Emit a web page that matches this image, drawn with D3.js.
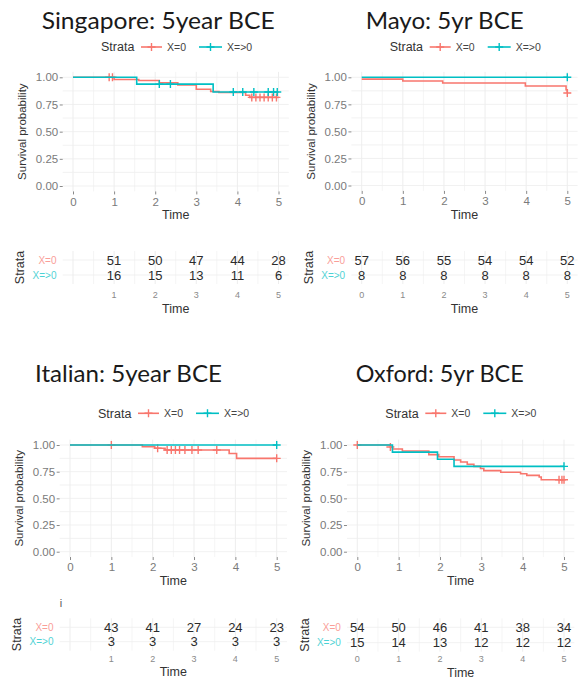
<!DOCTYPE html>
<html>
<head>
<meta charset="utf-8">
<script src="https://cdn.jsdelivr.net/npm/d3@7/dist/d3.min.js"></script>
<style>
body { margin: 0; background: #fff; }
</style>
</head>
<body>
<div id="km_grid"></div>
<script>
// Panel titles and strata
var titles = ['Singapore: 5year BCE', 'Mayo: 5yr BCE', 'Italian: 5year BCE', 'Oxford: 5yr BCE'];
var strata_labels = ['X=0', 'X=>0'];
var surv_ticks = [0, 0.25, 0.5, 0.75, 1];
var time_ticks = [0, 1, 2, 3, 4, 5];

// Kaplan-Meier steps (time, survival) and censoring times
var sgp_x0_time = [0, 1.0, 1.6, 2.1, 2.55, 3.0, 3.35, 3.55, 4.2, 4.3, 5];
var sgp_x0_surv = [1, 0.98, 0.97, 0.95, 0.93, 0.89, 0.87, 0.86, 0.835, 0.815, 0.815];
var sgp_x0_cens = [0.88, 0.96, 4.35, 4.45, 4.55, 4.65, 4.75, 4.85, 4.95];
var sgp_x1_time = [0, 1.55, 3.41, 5];
var sgp_x1_surv = [1, 0.9375, 0.865, 0.865];
var sgp_x1_cens = [2.1, 2.37, 3.9, 4.13, 4.4, 4.75, 4.88, 4.97];

var mayo_x0_time = [0, 1.0, 1.97, 3.98, 4.97, 5];
var mayo_x0_surv = [0.983, 0.966, 0.948, 0.92, 0.885, 0.855];
var mayo_x0_cens = [5];
var mayo_x1_time = [0, 5];
var mayo_x1_surv = [1, 1];
var mayo_x1_cens = [5];

var ital_x0_time = [0, 1.75, 2.05, 2.3, 3.85, 4.03, 5];
var ital_x0_surv = [1, 0.985, 0.97, 0.953, 0.92, 0.875, 0.875];
var ital_x0_cens = [1.0, 2.12, 2.35, 2.45, 2.55, 2.65, 2.78, 2.95, 3.1, 3.55, 5];
var ital_x1_time = [0, 5];
var ital_x1_surv = [1, 1];
var ital_x1_cens = [5];

var oxf_x0_time = [0, 0.8, 0.85, 1.09, 1.73, 1.97, 2.34, 2.5, 2.66, 2.82, 2.98, 3.06, 3.47, 3.95, 4.1, 4.4, 4.45, 5];
var oxf_x0_surv = [1, 0.981, 0.963, 0.944, 0.91, 0.89, 0.86, 0.84, 0.82, 0.80, 0.78, 0.76, 0.745, 0.73, 0.715, 0.70, 0.675, 0.675];
var oxf_x0_cens = [0, 0.8, 4.88, 4.95, 5.0];
var oxf_x1_time = [0, 0.85, 1.94, 2.34, 5];
var oxf_x1_surv = [1, 0.933, 0.867, 0.80, 0.80];
var oxf_x1_cens = [5];

// Numbers at risk
var sgp_risk_time = [1, 2, 3, 4, 5];
var sgp_risk_x0 = [51, 50, 47, 44, 28];
var sgp_risk_x1 = [16, 15, 13, 11, 6];
var mayo_risk_time = [0, 1, 2, 3, 4, 5];
var mayo_risk_x0 = [57, 56, 55, 54, 54, 52];
var mayo_risk_x1 = [8, 8, 8, 8, 8, 8];
var ital_risk_time = [1, 2, 3, 4, 5];
var ital_risk_x0 = [43, 41, 27, 24, 23];
var ital_risk_x1 = [3, 3, 3, 3, 3];
var oxf_risk_time = [0, 1, 2, 3, 4, 5];
var oxf_risk_x0 = [54, 50, 46, 41, 38, 34];
var oxf_risk_x1 = [15, 14, 13, 12, 12, 12];

var strata_colors = ['#F8766D', '#00BFC4'];
var sansFont = "'Liberation Sans', Arial, sans-serif";

// where each panel sits on the page (pixels)
var layout = [
	{x0: 73,    x5: 278.5, yTop: 77.3, yBot: 186,   titleX: 41.7,  titleY: 28.5, titleW: 233, legY: 47,    rows: [260, 275],     tabTick: 298, tabTime: 312.5},
	{x0: 361.7, x5: 567.3, yTop: 77.3, yBot: 185.5, titleX: 365.7, titleY: 28.5, titleW: 158, legY: 47,    rows: [260, 275],     tabTick: 298, tabTime: 312.5},
	{x0: 70,    x5: 276.7, yTop: 445,  yBot: 551.7, titleX: 35,    titleY: 382,  titleW: 187, legY: 413.3, rows: [627.3, 641.7], tabTick: 662, tabTime: 675.5},
	{x0: 357.3, x5: 564,   yTop: 445,  yBot: 551.7, titleX: 355.7, titleY: 382,  titleW: 168, legY: 413.3, rows: [627.3, 642.7], tabTick: 662, tabTime: 676.5}
];

var panels = [
	{curves: [[sgp_x0_time, sgp_x0_surv, sgp_x0_cens], [sgp_x1_time, sgp_x1_surv, sgp_x1_cens]],
	 risk: [sgp_risk_time, sgp_risk_x0, sgp_risk_x1]},
	{curves: [[mayo_x0_time, mayo_x0_surv, mayo_x0_cens], [mayo_x1_time, mayo_x1_surv, mayo_x1_cens]],
	 risk: [mayo_risk_time, mayo_risk_x0, mayo_risk_x1]},
	{curves: [[ital_x0_time, ital_x0_surv, ital_x0_cens], [ital_x1_time, ital_x1_surv, ital_x1_cens]],
	 risk: [ital_risk_time, ital_risk_x0, ital_risk_x1]},
	{curves: [[oxf_x0_time, oxf_x0_surv, oxf_x0_cens], [oxf_x1_time, oxf_x1_surv, oxf_x1_cens]],
	 risk: [oxf_risk_time, oxf_risk_x0, oxf_risk_x1]}
];

var plusPath = 'M-4,0H4M0,-4V4';

function survAt(times, surv, t) {
	var i = d3.bisectRight(times, t) - 1;
	return surv[Math.max(i, 0)];
}

function drawGrid(g, xs, top, bottom, ys) {
	var left = xs(-0.25), right = xs(5.25);
	g.selectAll('.vgrid')
		.data(d3.range(0, 5.01, 0.5))
		.enter().append('line')
			.attr('x1', function(d) { return xs(d); })
			.attr('x2', function(d) { return xs(d); })
			.attr('y1', top).attr('y2', bottom)
			.style('stroke', function(d) { return d % 1 === 0 ? '#e9e9e9' : '#f3f3f3'; })
			.style('stroke-width', '0.8px');
	g.selectAll('.hgrid')
		.data(ys)
		.enter().append('line')
			.attr('x1', left).attr('x2', right)
			.attr('y1', function(d) { return d; })
			.attr('y2', function(d) { return d; })
			.style('stroke', '#eeeeee')
			.style('stroke-width', '0.8px');
}

function drawPanel(svg, p, L, idx) {
	var x = d3.scaleLinear().domain([0, 5]).range([L.x0, L.x5]);
	var y = d3.scaleLinear().domain([0, 1]).range([L.yBot, L.yTop]);
	var panelTop = y(1.05), panelBot = y(-0.05);
	var g = svg.append('g').attr('class', 'panel');

	// title
	g.append('text')
		.attr('x', L.titleX).attr('y', L.titleY)
		.attr('textLength', L.titleW)
		.attr('lengthAdjust', 'spacingAndGlyphs')
		.style('font-family', "Lato, 'Open Sans', sans-serif")
		.style('font-size', '24px')
		.style('fill', '#1a1a1a')
		.text(titles[idx]);

	// legend
	var leg = g.append('g').attr('transform', 'translate(' + L.x0 + ',' + L.legY + ')');
	leg.append('text')
		.attr('x', 28).attr('dy', '0.35em')
		.style('font-family', sansFont).style('font-size', '12.5px').style('fill', '#333')
		.text('Strata');
	var keyX = [[68, 89, 94], [126, 149, 154]];
	keyX.forEach(function(k, i) {
		leg.append('line')
			.attr('x1', k[0]).attr('x2', k[1]).attr('y1', 0).attr('y2', 0)
			.style('stroke', strata_colors[i]).style('stroke-width', '1.6px');
		leg.append('path')
			.attr('d', plusPath)
			.attr('transform', 'translate(' + ((k[0] + k[1]) / 2) + ',0)')
			.style('stroke', strata_colors[i]).style('stroke-width', '1.4px');
		leg.append('text')
			.attr('x', k[2]).attr('dy', '0.35em')
			.style('font-family', sansFont).style('font-size', '10.5px').style('fill', '#444')
			.text(strata_labels[i]);
	});

	// grid
	var gy = d3.range(0, 1.001, 0.125).map(function(d) { return y(d); });
	drawGrid(g.append('g'), x, panelTop, panelBot, gy);

	// axes
	var yAxis = d3.axisLeft(y).tickValues(surv_ticks).tickFormat(d3.format('.2f')).tickSize(3).tickPadding(1.5);
	var xAxis = d3.axisBottom(x).tickValues(time_ticks).tickFormat(d3.format('d')).tickSize(3).tickPadding(3);
	var ya = g.append('g').attr('transform', 'translate(' + x(-0.25) + ',0)').call(yAxis);
	var xa = g.append('g').attr('transform', 'translate(0,' + panelBot + ')').call(xAxis);
	[ya, xa].forEach(function(a) {
		a.select('.domain').remove();
		a.selectAll('line').style('stroke', '#8a8a8a');
		a.selectAll('text')
			.style('font-family', sansFont).style('font-size', '11.5px').style('fill', '#7a7a7a');
	});

	g.append('text')
		.attr('transform', 'translate(' + (L.x0 - 51) + ',' + ((L.yTop + L.yBot) / 2) + ') rotate(-90)')
		.attr('text-anchor', 'middle').attr('dy', '0.35em')
		.style('font-family', sansFont).style('font-size', '11.5px').style('fill', '#333')
		.text('Survival probability');
	g.append('text')
		.attr('x', (L.x0 + L.x5) / 2).attr('y', L.yBot + 33)
		.attr('text-anchor', 'middle')
		.style('font-family', sansFont).style('font-size', '12.5px').style('fill', '#333')
		.text('Time');

	// KM step curves
	var stepLine = d3.line()
		.x(function(d) { return x(d[0]); })
		.y(function(d) { return y(d[1]); })
		.curve(d3.curveStepAfter);

	p.curves.forEach(function(c, i) {
		var pts = c[0].map(function(t, j) { return [t, c[1][j]]; });
		g.append('path')
			.attr('d', stepLine(pts))
			.style('fill', 'none')
			.style('stroke', strata_colors[i])
			.style('stroke-width', '1.6px')
			.style('stroke-linejoin', 'miter');
		g.selectAll('.cens' + i)
			.data(c[2])
			.enter().append('path')
				.attr('d', plusPath)
				.attr('transform', function(t) {
					return 'translate(' + x(t) + ',' + y(survAt(c[0], c[1], t)) + ')';
				})
				.style('stroke', strata_colors[i])
				.style('stroke-width', '1.4px');
	});

	// risk table
	var tTop = L.rows[0] - 9, tBot = L.rows[1] + 9;
	drawGrid(g.append('g'), x, tTop, tBot, L.rows);

	var risk = p.risk;
	[risk[1], risk[2]].forEach(function(vals, i) {
		g.selectAll('.risk' + i)
			.data(vals)
			.enter().append('text')
				.attr('x', function(d, j) { return x(risk[0][j]); })
				.attr('y', L.rows[i])
				.attr('dy', '0.36em')
				.attr('text-anchor', 'middle')
				.style('font-family', sansFont).style('font-size', '13px').style('fill', '#2b2b2b')
				.text(function(d) { return d; });
		g.append('text')
			.attr('x', L.x0 - 16.5).attr('y', L.rows[i]).attr('dy', '0.35em')
			.attr('text-anchor', 'end')
			.style('font-family', sansFont).style('font-size', '10px')
			.style('fill', strata_colors[i]).style('opacity', 0.7)
			.text(strata_labels[i]);
	});
	g.selectAll('.rtick')
		.data(risk[0])
		.enter().append('text')
			.attr('x', function(d) { return x(d); })
			.attr('y', L.tabTick)
			.attr('text-anchor', 'middle')
			.style('font-family', sansFont).style('font-size', '9px').style('fill', '#8a8a8a')
			.text(function(d) { return d; });
	g.append('text')
		.attr('transform', 'translate(' + (L.x0 - 53) + ',' + ((L.rows[0] + L.rows[1]) / 2) + ') rotate(-90)')
		.attr('text-anchor', 'middle').attr('dy', '0.35em')
		.style('font-family', sansFont).style('font-size', '12.5px').style('fill', '#333')
		.text('Strata');
	g.append('text')
		.attr('x', (L.x0 + L.x5) / 2).attr('y', L.tabTime)
		.attr('text-anchor', 'middle')
		.style('font-family', sansFont).style('font-size', '12.5px').style('fill', '#333')
		.text('Time');
}

// SVG Viewport
var svg = d3.select('#km_grid').append('svg')
	.attr('width', 588)
	.attr('height', 683);

panels.forEach(function(p, i) { drawPanel(svg, p, layout[i], i); });

// stray mark left in the Italian risk table
svg.append('text')
	.attr('x', 61).attr('y', 607)
	.attr('text-anchor', 'middle')
	.style('font-family', sansFont).style('font-size', '11px').style('fill', '#555')
	.text('i');
</script>
</body>
</html>
